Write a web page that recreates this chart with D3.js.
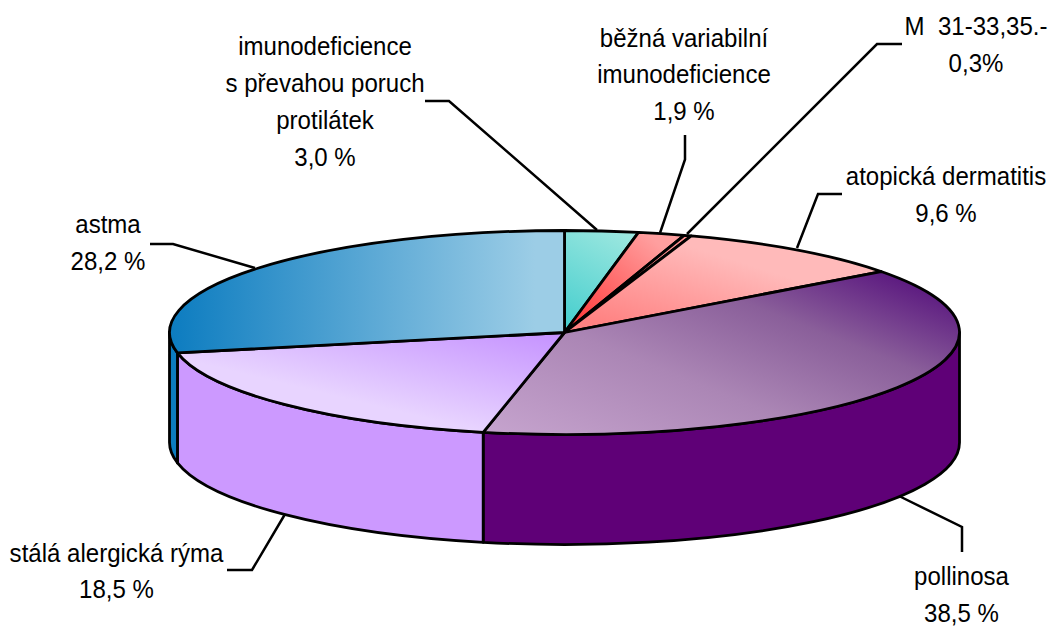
<!DOCTYPE html>
<html><head><meta charset="utf-8">
<script src="https://cdn.jsdelivr.net/npm/d3@7/dist/d3.min.js"></script>
<style>html,body{margin:0;background:#fff}svg{display:block}
text{font-family:"Liberation Sans",Arial,sans-serif;fill:#000}</style></head>
<body><svg id="c" width="1052" height="627"></svg>
<script>
const categories = ["imunodeficience s převahou poruch protilátek","běžná variabilní imunodeficience","M  31-33,35.-","atopická dermatitis","pollinosa","stálá alergická rýma","astma"];
const values = [3.0,1.9,0.3,9.6,38.5,18.5,28.2];
const labelLines = [
 ["imunodeficience","s převahou poruch","protilátek","3,0 %"],
 ["běžná variabilní","imunodeficience","1,9 %"],
 ["M  31-33,35.-","0,3%"],
 ["atopická dermatitis","9,6 %"],
 ["pollinosa","38,5 %"],
 ["stálá alergická rýma","18,5 %"],
 ["astma","28,2 %"]];
const topColors = [["#42cdcd","#9fe8e0"],["#ff3030","#ff9f9f"],["#e03030","#ff9090"],["#ff8282","#ffbaba"],["#c6a4ce","#ab86b5","#8a5f9a","#5c1a80"],["#e8d4ff","#c694ff"],["#0c7cc0","#9ccde6"]];
const wallColors = ["#40cccc","#ff4040","#ff4040","#ff8080","#5f0077","#cc99ff","#0c7cc0"];

const W=1052,H=627,cx=564.5,cy=332.5,rx=395,ry=102,depth=110,k=ry/rx,sw=2.8;
const svg=d3.select("#c");
const defs=svg.append("defs");
// gradient vectors in page pixels, mapped back through the pie's squash
const gradVec=[[565,332,625,228],[565,332,650,236],[565,332,650,236],[640,335,670,240],[483,434,594,155],[483,432,509,325],[170,0,535,0]];
const pollinosaOffsets=[0,.42,.73,1];
topColors.forEach((c,i)=>{
  const d=gradVec[i];
  const g=defs.append("linearGradient").attr("id","g"+i).attr("gradientUnits","userSpaceOnUse")
    .attr("gradientTransform",`scale(1,${1/k}) translate(${-cx},${-cy})`)
    .attr("x1",d[0]).attr("y1",d[1]).attr("x2",d[2]).attr("y2",d[3]);
  c.forEach((col,j)=>{
    g.append("stop").attr("offset",c.length>2?pollinosaOffsets[j]:j).attr("stop-color",col);
  });
});
const arcs=d3.pie().sort(null).value(d=>d)(values);
const arcGen=d3.arc().innerRadius(0).outerRadius(rx);
const pieG=svg.append("g").attr("transform",`translate(${cx},${cy}) scale(1,${k})`);
const HALF=Math.PI/2, d3y=depth/k;
function wallPath(a){
  const s=Math.max(a.startAngle,HALF), e=Math.min(a.endAngle,3*HALF);
  if(e<=s) return null;
  const p=d3.path();
  p.arc(0,0,rx,s-HALF,e-HALF,false);
  p.arc(0,d3y,rx,e-HALF,s-HALF,true);
  p.closePath();
  return p.toString();
}
pieG.selectAll("path.wall").data(arcs.filter(a=>wallPath(a))).join("path")
 .attr("class","wall").attr("d",wallPath)
 .attr("fill",a=>wallColors[a.index]).attr("stroke","#000").attr("stroke-width",sw)
 .attr("stroke-linejoin","round").attr("vector-effect","non-scaling-stroke");
pieG.selectAll("path.top").data(arcs).join("path")
 .attr("class","top").attr("d",arcGen)
 .attr("fill",a=>`url(#g${a.index})`).attr("stroke","#000").attr("stroke-width",sw)
 .attr("stroke-linejoin","round").attr("vector-effect","non-scaling-stroke");

// annotation layout: label centre x, first baseline y, leader polyline
const layout=[
 {x:325,y:55,leader:[[425,101],[449,101],[597,230]]},
 {x:684,y:46.5,leader:[[685,135],[685,159.5],[660,233]]},
 {x:976,y:35,leader:[[902,44],[877,44],[687,234]]},
 {x:946,y:185,leader:[[842,194],[818,194],[797,248]]},
 {x:961.5,y:585,leader:[[962,552],[962,527],[900,496.5]]},
 {x:116.5,y:561.5,leader:[[227,570],[252,570],[284.5,515]]},
 {x:108,y:233,leader:[[150,244],[173,244],[255,268]]}];
const line=d3.line();
svg.append("g").selectAll("path").data(layout).join("path")
 .attr("d",d=>line(d.leader)).attr("fill","none").attr("stroke","#000").attr("stroke-width",2.5);
const step=37;
const lab=svg.append("g").selectAll("text").data(layout).join("text")
 .attr("text-anchor","middle").attr("font-size",26)
 .attr("transform",d=>`translate(${d.x},${d.y}) scale(.925,1)`);
lab.selectAll("tspan").data((d,i)=>labelLines[i]).join("tspan")
 .attr("x",0).attr("dy",(d,i)=>i?step:0).style("white-space","pre").text(d=>d);
</script></body></html>
